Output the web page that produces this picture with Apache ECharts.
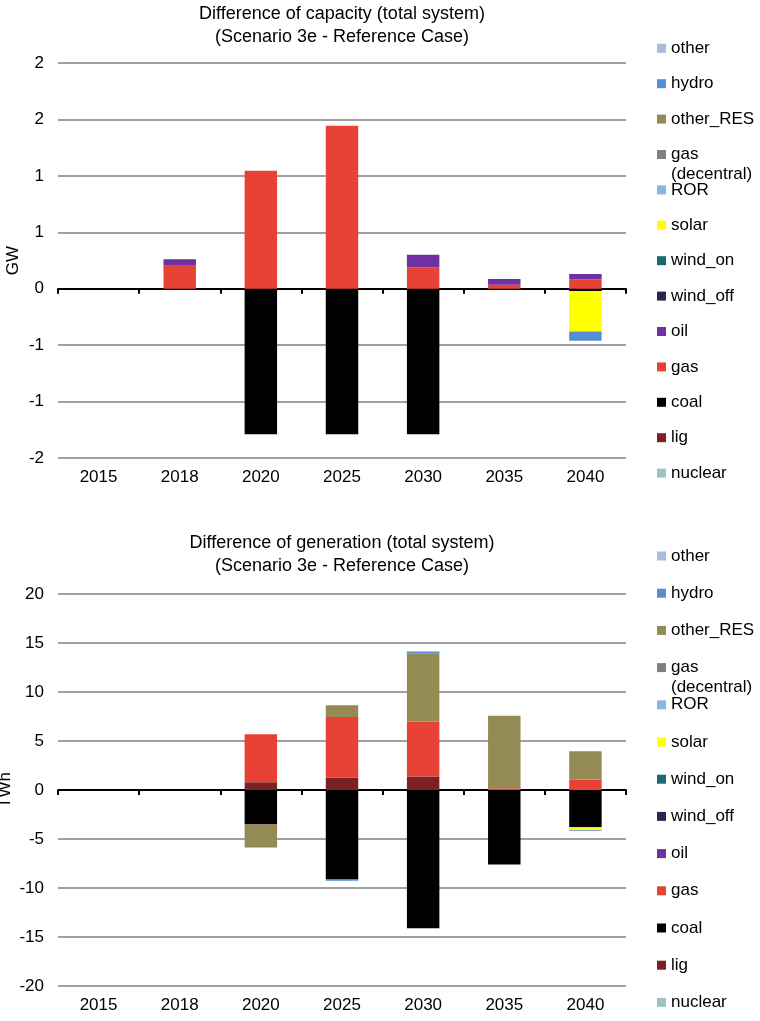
<!DOCTYPE html>
<html>
<head>
<meta charset="utf-8">
<script src="https://cdn.jsdelivr.net/npm/echarts@6/dist/echarts.min.js"></script>
<style>
  html, body { margin: 0; padding: 0; background: #ffffff; }
  #chart { width: 760px; height: 1021px; }
</style>
</head>
<body>
<div id="chart"></div>
<script>
// Categories (years)
const years = ['2015', '2018', '2020', '2025', '2030', '2035', '2040'];

// Technologies in stacking order (bottom of stack first)
const techNames = ['nuclear', 'lig', 'coal', 'gas', 'oil', 'wind_off', 'wind_on',
                   'solar', 'ROR', 'gas (decentral)', 'other_RES', 'hydro', 'other'];
const techColors = ['#9dc3c3', '#7b2027', '#000000', '#e84135', '#7030a0', '#2e2451', '#1b6a6e',
                    '#ffff00', '#8eb4e3', '#808080', '#948a54', '#558ed5', '#a9bcdc'];

// Difference of capacity, GW
const capNuclear   = [0, 0, 0, 0, 0, 0, 0];
const capLig       = [0, 0, 0, 0, 0, 0, 0];
const capCoal      = [0, 0, -1.29, -1.29, -1.29, 0, -0.02];
const capGas       = [0, 0.21, 1.045, 1.445, 0.19, 0.035, 0.083];
const capOil       = [0, 0.05, 0, 0, 0.11, 0.05, 0.047];
const capWindOff   = [0, 0, 0, 0, 0, 0, 0];
const capWindOn    = [0, 0, 0, 0, 0, 0, 0];
const capSolar     = [0, 0, 0, 0, 0, 0, -0.36];
const capROR       = [0, 0, 0, 0, 0, 0, 0];
const capGasDec    = [0, 0, 0, 0, 0, 0, 0];
const capOtherRES  = [0, 0, 0, 0, 0, 0, 0];
const capHydro     = [0, 0, 0, 0, 0, 0, -0.08];
const capOther     = [0, 0, 0, 0, 0, 0, 0];

// Difference of generation, TWh
const genNuclear   = [0, 0, 0, 0, 0, 0, 0];
const genLig       = [0, 0, 0.8, 1.25, 1.38, 0, 0];
const genCoal      = [0, 0, -3.52, -9.13, -14.1, -7.6, -3.79];
const genGas       = [0, 0, 4.88, 6.21, 5.62, 0.17, 1.08];
const genOil       = [0, 0, 0, 0, 0, 0, 0];
const genWindOff   = [0, 0, 0, 0, 0, 0, 0];
const genWindOn    = [0, 0, 0, 0, 0, 0, 0];
const genSolar     = [0, 0, 0, 0, 0, 0, -0.3];
const genROR       = [0, 0, 0, 0, 0, 0, 0];
const genGasDec    = [0, 0, 0, 0, 0, 0, 0];
const genOtherRES  = [0, 0, -2.3, 1.19, 6.96, 7.37, 2.87];
const genHydro     = [0, 0, -0.05, -0.12, 0.17, 0.04, -0.08];
const genOther     = [0, 0, 0, 0, 0, 0, 0];

// Y-axis tick values and their printed labels
const capTickValues = [-1.5, -1, -0.5, 0, 0.5, 1, 1.5, 2];
const capTickLabels = ['-2', '-1', '-1', '0', '1', '1', '2', '2'];
const genTickValues = [-20, -15, -10, -5, 0, 5, 10, 15, 20];
const genTickLabels = ['-20', '-15', '-10', '-5', '0', '5', '10', '15', '20'];

const capData = [capNuclear, capLig, capCoal, capGas, capOil, capWindOff, capWindOn,
                 capSolar, capROR, capGasDec, capOtherRES, capHydro, capOther];
const genData = [genNuclear, genLig, genCoal, genGas, genOil, genWindOff, genWindOn,
                 genSolar, genROR, genGasDec, genOtherRES, genHydro, genOther];

const FONT = '"Liberation Sans", Arial, sans-serif';
const TXT = '#000000';

function tickFormatter(values, labels) {
  return function (v) {
    for (let i = 0; i < values.length; i++) {
      if (Math.abs(values[i] - v) < 1e-9) return labels[i];
    }
    return '';
  };
}

const grids = [
  { left: 58, right: 134, top: 63, height: 395, outerBoundsMode: 'none', containLabel: false },
  { left: 58, right: 134, top: 594, height: 392, outerBoundsMode: 'none', containLabel: false }
];

const xAxes = [];
const yAxes = [];
[0, 1].forEach(function (g) {
  // labels along the bottom of the plot
  xAxes.push({
    type: 'category', data: years, gridIndex: g, position: 'bottom',
    axisLine: { show: false, onZero: false }, axisTick: { show: false },
    axisLabel: { color: TXT, fontFamily: FONT, fontSize: 17, margin: 11 }
  });
  // zero line with boundary ticks
  xAxes.push({
    type: 'category', data: years, gridIndex: g, position: 'bottom',
    axisLine: { show: true, onZero: true, lineStyle: { color: '#000', width: 2 } },
    axisTick: { show: true, length: 5, lineStyle: { color: '#000', width: 2 } },
    axisLabel: { show: false }
  });
});

yAxes.push({
  type: 'value', gridIndex: 0, min: -1.5, max: 2, interval: 0.5,
  name: 'GW', nameLocation: 'middle', nameGap: 36, nameRotate: 90, nameMoveOverlap: false,
  nameTextStyle: { color: TXT, fontFamily: FONT, fontSize: 17 },
  axisLine: { show: false }, axisTick: { show: false },
  axisLabel: { color: TXT, fontFamily: FONT, fontSize: 17, margin: 14,
               formatter: tickFormatter(capTickValues, capTickLabels) },
  splitLine: { lineStyle: { color: '#a0a0a0', width: 2 } }
});
yAxes.push({
  type: 'value', gridIndex: 1, min: -20, max: 20, interval: 5,
  name: 'TWh', nameLocation: 'middle', nameGap: 44, nameRotate: 90, nameMoveOverlap: false,
  nameTextStyle: { color: TXT, fontFamily: FONT, fontSize: 17 },
  axisLine: { show: false }, axisTick: { show: false },
  axisLabel: { color: TXT, fontFamily: FONT, fontSize: 17, margin: 14,
               formatter: tickFormatter(genTickValues, genTickLabels) },
  splitLine: { lineStyle: { color: '#a0a0a0', width: 2 } }
});

const series = [];
[[capData, 0, 'cap'], [genData, 1, 'gen']].forEach(function (spec) {
  const dataSet = spec[0], g = spec[1];
  techNames.forEach(function (name, i) {
    series.push({
      name: name, type: 'bar', stack: spec[2],
      xAxisIndex: g * 2, yAxisIndex: g,
      barWidth: '40%',
      itemStyle: { color: techColors[i] },
      data: dataSet[i]
    });
  });
});

// Legend entries listed top-down in reverse stacking order
const legends = [];
const legendBlocks = [{ start: 48.3, step: 35.4 }, { start: 556, step: 37.2 }];
legendBlocks.forEach(function (blk) {
  const order = techNames.slice().reverse();
  order.forEach(function (name, i) {
    const cy = blk.start + i * blk.step;
    const twoLine = name === 'gas (decentral)';
    legends.push({
      left: 657, top: twoLine ? cy - 30 : cy - 10,
      padding: 0, orient: 'vertical',
      icon: 'rect', itemWidth: 9, itemHeight: 9,
      selectedMode: false,
      textStyle: { color: TXT, fontFamily: FONT, fontSize: 17, lineHeight: 20 },
      formatter: function (n) { return n === 'gas (decentral)' ? '\ngas\n(decentral)' : n; },
      data: [name]
    });
  });
});

const titleStyle = { color: TXT, fontFamily: FONT, fontSize: 18, fontWeight: 'normal', lineHeight: 23 };
const option = {
  backgroundColor: '#ffffff',
  animation: false,
  title: [
    { text: 'Difference of capacity (total system)\n(Scenario 3e - Reference Case)',
      left: 342, top: 3, textAlign: 'center', padding: 0, textStyle: titleStyle },
    { text: 'Difference of generation (total system)\n(Scenario 3e - Reference Case)',
      left: 342, top: 532, textAlign: 'center', padding: 0, textStyle: titleStyle }
  ],
  legend: legends,
  grid: grids,
  xAxis: xAxes,
  yAxis: yAxes,
  series: series
};

const chart = echarts.init(document.getElementById('chart'), null, { renderer: 'canvas' });
chart.setOption(option);
</script>
</body>
</html>
